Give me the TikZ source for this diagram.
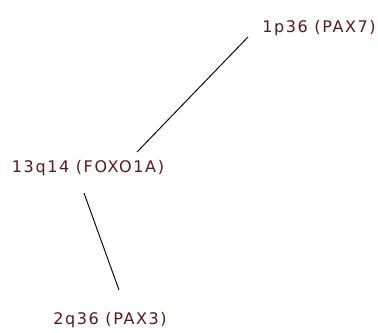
\documentclass[tikz,border=0pt]{standalone}
\usepackage{fontspec}
\setmainfont{DejaVu Sans}[LetterSpace=10]
\definecolor{locusR}{HTML}{5A1818}

\begin{document}
\begin{tikzpicture}[x=0.75pt, y=-0.75pt,
    locus/.style={text=locusR, font=\fontsize{12}{14}\selectfont, inner sep=0pt}]
  \path[use as bounding box, fill=white] (0,0) rectangle (378,332);

  % loci
  \node[locus] (pax7)  at (319,28)  {1p36 (PAX7)};
  \node[locus] (foxo)  at (88,168)  {13q14 (FOXO1A)};
  \node[locus] (pax3)  at (110,320) {2q36 (PAX3)};

  % connector ends
  \coordinate (foxoTop) at (137,152);
  \coordinate (pax7End) at (248,37);
  \coordinate (foxoBot) at (84,193);
  \coordinate (pax3End) at (119,290);

  \draw[line width=0.7pt] (foxoTop) -- (pax7End);
  \draw[line width=0.7pt] (foxoBot) -- (pax3End);
\end{tikzpicture}
\end{document}
